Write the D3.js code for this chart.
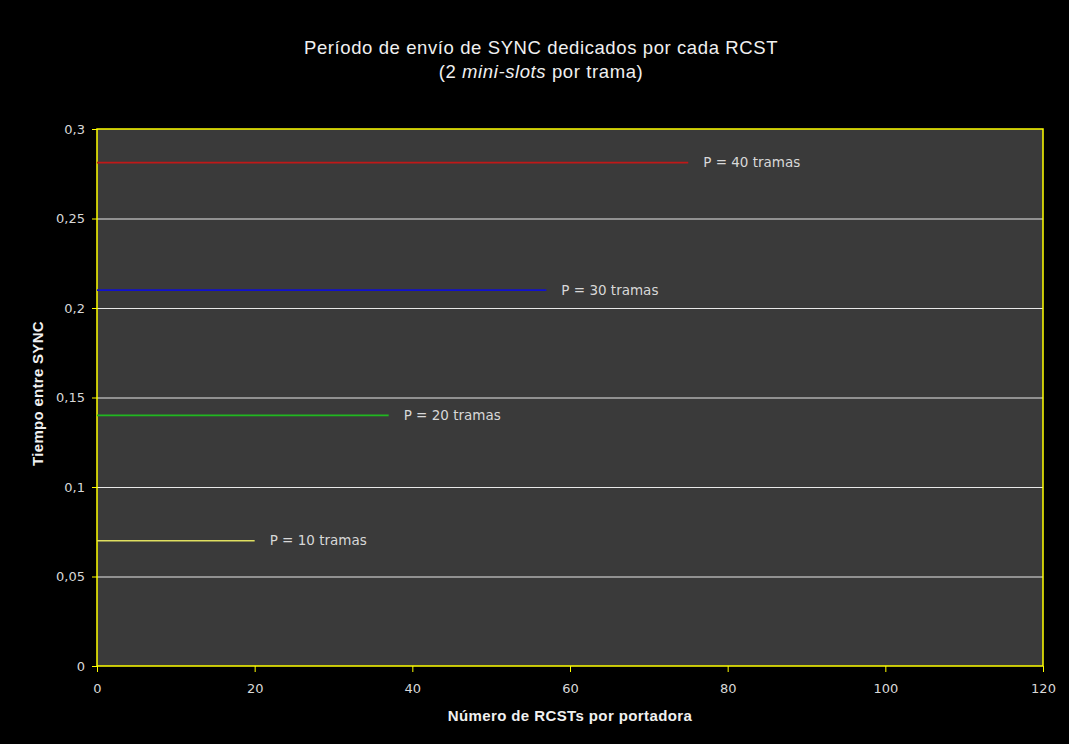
<html lang="es">
<head>
  <meta charset="UTF-8">
  <title>Periodo de envio de SYNC</title>
  <script src="https://d3js.org/d3.v7.min.js"></script>
</head>
<style>
  body { margin: 0; background: #000; }
  .tick text { font-family: Tahoma, "DejaVu Sans", sans-serif; font-size: 13px; fill: #d8d8d8; }
  .axis .domain { stroke: none; }
  .axis line { stroke: #ffff00; }
  .gridlines line { stroke: #e8e8e8; }
  .gridlines .domain { stroke: none; }
</style>
<body>
  <svg class="chart" width="1069" height="744"></svg>
  <script>
    // data
    const periods = ['P = 10 tramas', 'P = 20 tramas', 'P = 30 tramas', 'P = 40 tramas'];
    const lineStart = [0, 0, 0, 0];
    const lineEnd = [20, 37, 57, 75];
    const syncTime = [0.07, 0.14, 0.21, 0.2812];
    const lineColors = ['#e0e060', '#20b820', '#1010d0', '#c01818'];
    const xTicks = [0, 20, 40, 60, 80, 100, 120];
    const yTicks = [0, 0.05, 0.1, 0.15, 0.2, 0.25, 0.3];

    const svg = d3.select('svg.chart');
    const margins = { top: 129, right: 26, bottom: 78, left: 97 };
    const width = +svg.attr('width');
    const height = +svg.attr('height');
    const chartWidth = width - margins.left - margins.right;
    const chartHeight = height - margins.top - margins.bottom;

    svg.append('rect').attr('width', width).attr('height', height).attr('fill', '#000');

    const xScale = d3.scaleLinear().domain([0, 120]).range([0, chartWidth]);
    const yScale = d3.scaleLinear().domain([0, 0.3]).range([chartHeight, 0]);

    const chartArea = svg.append('g')
      .attr('transform', `translate(${margins.left},${margins.top})`);

    chartArea.append('rect')
      .attr('width', chartWidth)
      .attr('height', chartHeight)
      .attr('fill', '#3a3a3a');

    // gridlines
    chartArea.append('g')
      .attr('class', 'gridlines')
      .call(d3.axisLeft(yScale).tickValues(yTicks.slice(1, -1)).tickSize(-chartWidth).tickFormat(''));

    // plot border
    chartArea.append('rect')
      .attr('width', chartWidth)
      .attr('height', chartHeight)
      .attr('fill', 'none')
      .attr('stroke', '#ffff00')
      .attr('stroke-width', 1.5);

    const fmt = d => d3.format('')(d).replace('.', ',');

    chartArea.append('g')
      .attr('class', 'axis')
      .call(d3.axisLeft(yScale).tickValues(yTicks).tickSize(5).tickPadding(7).tickFormat(fmt));

    chartArea.append('g')
      .attr('class', 'axis')
      .attr('transform', `translate(0,${chartHeight})`)
      .call(d3.axisBottom(xScale).tickValues(xTicks).tickSize(6).tickPadding(12));

    // series lines and their labels
    periods.forEach((p, i) => {
      chartArea.append('line')
        .attr('x1', xScale(lineStart[i]))
        .attr('x2', xScale(lineEnd[i]))
        .attr('y1', yScale(syncTime[i]))
        .attr('y2', yScale(syncTime[i]))
        .attr('stroke', lineColors[i])
        .attr('stroke-width', 1.6);
      chartArea.append('text')
        .attr('x', xScale(lineEnd[i]) + 15)
        .attr('y', yScale(syncTime[i]))
        .attr('dy', '0.35em')
        .style('font-family', 'Tahoma, "DejaVu Sans", sans-serif')
        .style('font-size', '13.5px')
        .attr('fill', '#d8d8d8')
        .text(p);
    });

    // titles
    const title = svg.append('text')
      .attr('text-anchor', 'middle')
      .style('font-family', 'Arial, "Liberation Sans", sans-serif')
      .style('font-size', '18.5px')
      .style('letter-spacing', '0.6px')
      .attr('fill', '#f0f0f0');
    title.append('tspan').attr('x', 541).attr('y', 54).text('Período de envío de SYNC dedicados por cada RCST');
    const line2 = title.append('tspan').attr('x', 541).attr('y', 78);
    line2.append('tspan').text('(2 ');
    line2.append('tspan').style('font-style', 'italic').text('mini-slots');
    line2.append('tspan').text('  por trama)');

    svg.append('text')
      .attr('x', margins.left + chartWidth / 2)
      .attr('y', 721)
      .attr('text-anchor', 'middle')
      .style('font-family', 'Arial, "Liberation Sans", sans-serif')
      .style('font-size', '15px')
      .style('font-weight', 'bold')
      .style('letter-spacing', '0.4px')
      .attr('fill', '#f0f0f0')
      .text('Número de RCSTs por portadora');

    svg.append('text')
      .attr('transform', `translate(43,${margins.top + chartHeight / 2 - 4}) rotate(-90)`)
      .attr('text-anchor', 'middle')
      .style('font-family', 'Arial, "Liberation Sans", sans-serif')
      .style('font-size', '15px')
      .style('font-weight', 'bold')
      .style('letter-spacing', '0.3px')
      .attr('fill', '#f0f0f0')
      .text('Tiempo entre SYNC');
  </script>
</body>
</html>
